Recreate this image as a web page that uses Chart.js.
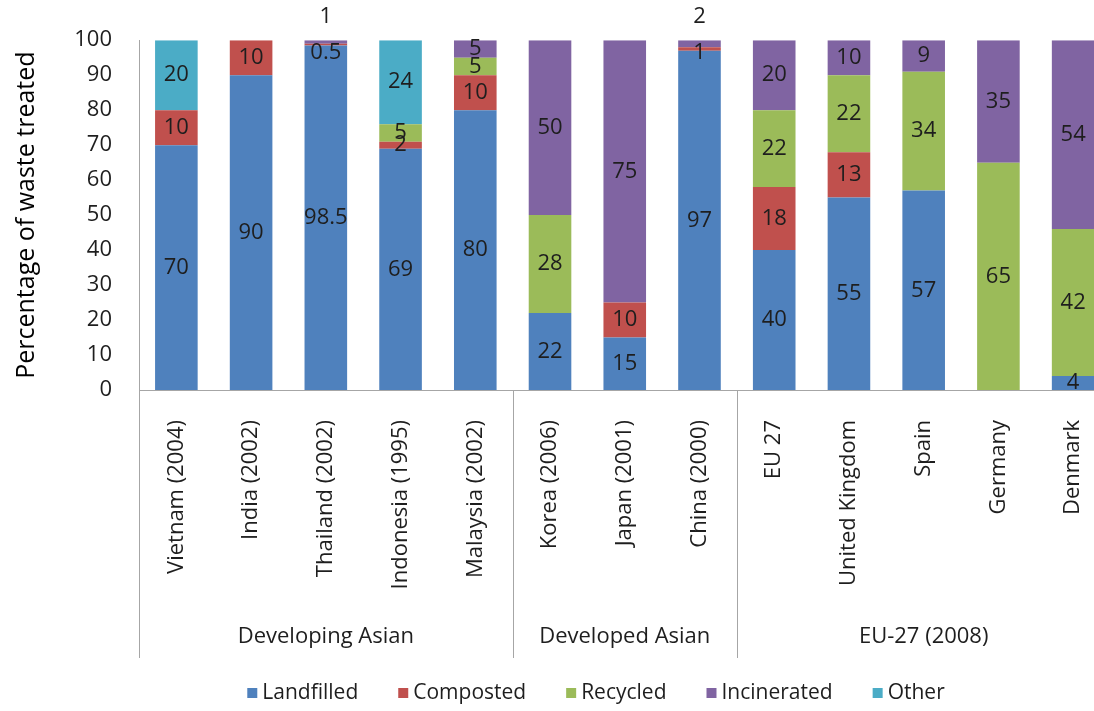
<!DOCTYPE html>
<html><head><meta charset="utf-8">
<script src="https://cdn.jsdelivr.net/npm/chart.js@4/dist/chart.umd.min.js"></script>
<style>
html,body{margin:0;padding:0;background:#fff;overflow:hidden;}
#wrap{width:1094px;height:711px;overflow:hidden;position:relative;}
#c{position:absolute;left:0;top:0;}
</style></head><body>
<div id="wrap"><canvas id="c" width="1130" height="711"></canvas></div>
<script>
const categories = ['Vietnam (2004)','India (2002)','Thailand (2002)','Indonesia (1995)','Malaysia (2002)','Korea (2006)','Japan (2001)','China (2000)','EU 27','United Kingdom','Spain','Germany','Denmark'];
const groupNames = ['Developing Asian','Developed Asian','EU-27 (2008)'];
const groupSizes = [5, 3, 5];
const seriesNames = ['Landfilled','Composted','Recycled','Incinerated','Other'];
const landfilled  = [70, 90, 98.5, 69, 80, 22, 15, 97, 40, 55, 57, 0, 4];
const composted   = [10, 10, 0.5, 2, 10, 0, 10, 1, 18, 13, 0, 0, 0];
const recycled    = [0, 0, 0, 5, 5, 28, 0, 0, 22, 22, 34, 65, 42];
const incinerated = [0, 0, 1, 0, 5, 50, 75, 2, 20, 10, 9, 35, 54];
const other       = [20, 0, 0, 24, 0, 0, 0, 0, 0, 0, 0, 0, 0];
const yTicks = [0,10,20,30,40,50,60,70,80,90,100];

const colors = ['#4F81BD','#C0504D','#9BBB59','#8064A2','#4BACC6'];
const seriesData = [landfilled, composted, recycled, incinerated, other];
const FONT = "'Open Sans'";
const TXT = '#1e1e1e';
const AXIS = '#a6a6a6';

const labelPlugin = {
  id: 'segLabels',
  afterDatasetsDraw(chart) {
    const ctx = chart.ctx, area = chart.chartArea;
    ctx.save();
    ctx.font = '22px ' + FONT;
    ctx.fillStyle = TXT;
    ctx.textAlign = 'center';
    ctx.textBaseline = 'middle';
    chart.data.datasets.forEach((ds, di) => {
      const meta = chart.getDatasetMeta(di);
      ds.data.forEach((v, j) => {
        if (!v) return;
        const el = meta.data[j];
        let y = (el.y + el.base) / 2;
        if (v < 3) {
          let top = true;
          for (let k = di + 1; k < chart.data.datasets.length; k++) if (chart.data.datasets[k].data[j] > 0) top = false;
          if (top) y = area.top - 23;
          else y = Math.max(y, area.top + 13);
        }
        ctx.fillText(String(v), el.x, y);
      });
    });
    ctx.restore();
  }
};

const groupPlugin = {
  id: 'groups',
  afterDraw(chart) {
    const ctx = chart.ctx, area = chart.chartArea, xs = chart.scales.x;
    ctx.save();
    ctx.strokeStyle = AXIS;
    ctx.lineWidth = 1;
    ctx.font = '22px ' + FONT;
    ctx.fillStyle = TXT;
    ctx.textAlign = 'center';
    ctx.textBaseline = 'middle';
    const half = (xs.getPixelForValue(1) - xs.getPixelForValue(0)) / 2;
    let start = 0;
    const bounds = [];
    groupSizes.forEach((n, g) => {
      const l = xs.getPixelForValue(start) - half;
      const r = xs.getPixelForValue(start + n - 1) + half;
      bounds.push(l, r);
      ctx.fillText(groupNames[g], (l + r) / 2, area.bottom + 247);
      start += n;
    });
    const uniq = [...new Set(bounds.map(b => Math.round(b)))];
    uniq.forEach(b => {
      ctx.beginPath();
      ctx.moveTo(b + 0.5, area.bottom);
      ctx.lineTo(b + 0.5, area.bottom + 268);
      ctx.stroke();
    });
    // legend
    ctx.font = '21px ' + FONT;
    ctx.textAlign = 'left';
    const sq = 10, gapSq = 5, gapItem = 40;
    const widths = seriesNames.map(s => ctx.measureText(s).width);
    const total = widths.reduce((a, b) => a + b, 0) + seriesNames.length * (sq + gapSq) + (seriesNames.length - 1) * gapItem;
    let x = 596 - total / 2;
    const ly = 693;
    seriesNames.forEach((s, i) => {
      ctx.fillStyle = colors[i];
      ctx.fillRect(x, ly - sq / 2, sq, sq);
      x += sq + gapSq;
      ctx.fillStyle = TXT;
      ctx.fillText(s, x, ly);
      x += widths[i] + gapItem;
    });
    ctx.restore();
  }
};

function draw() {
  Chart.defaults.font.family = FONT;
  Chart.defaults.font.size = 22;
  Chart.defaults.color = TXT;
  new Chart(document.getElementById('c'), {
    type: 'bar',
    data: {
      labels: categories,
      datasets: seriesNames.map((n, i) => ({
        label: n, data: seriesData[i], backgroundColor: colors[i], borderWidth: 0,
        barPercentage: 0.57, categoryPercentage: 1
      }))
    },
    options: {
      responsive: false, animation: false, devicePixelRatio: 1,
      layout: { padding: { top: 38, right: 12, left: 0, bottom: 0 } },
      plugins: { legend: { display: false }, tooltip: { enabled: false } },
      scales: {
        x: {
          stacked: true,
          grid: { display: false, drawTicks: false },
          border: { display: true, color: AXIS, width: 1 },
          ticks: { minRotation: 90, maxRotation: 90, autoSkip: false, padding: 30, font: { size: 22 }, color: TXT },
          afterFit(s) { s.height = 321; }
        },
        y: {
          stacked: true, min: 0, max: 100,
          afterBuildTicks(s) { s.ticks = yTicks.map(v => ({ value: v })); },
          grid: { display: false, drawTicks: false },
          border: { display: true, color: AXIS, width: 1 },
          ticks: { padding: 27, font: { size: 22 }, color: TXT },
          title: { display: true, text: 'Percentage of waste treated', font: { size: 25 }, color: '#000', padding: { top: 12, bottom: 0 } },
          afterFit(s) { s.width = 139; }
        }
      }
    },
    plugins: [labelPlugin, groupPlugin]
  });
}
if (document.fonts && document.fonts.load) {
  document.fonts.load("22px 'Open Sans'").then(draw, draw);
} else draw();
</script>
</body></html>
